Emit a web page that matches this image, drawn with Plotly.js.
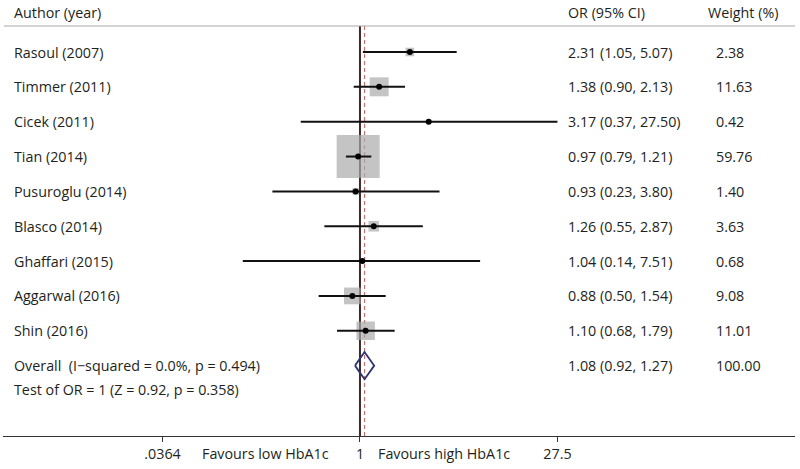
<!DOCTYPE html>
<html><head><meta charset="utf-8">
<script src="https://cdn.plot.ly/plotly-3.0.1.min.js"></script>
<style>html,body{margin:0;padding:0;background:#fff}#chart{width:800px;height:469px}</style>
</head><body><div id="chart"></div>
<script>
const studies = ['Rasoul (2007)','Timmer (2011)','Cicek (2011)','Tian (2014)','Pusuroglu (2014)','Blasco (2014)','Ghaffari (2015)','Aggarwal (2016)','Shin (2016)'];
const orValues = [2.31,1.38,3.17,0.97,0.93,1.26,1.04,0.88,1.10];
const ciLow = [1.05,0.90,0.37,0.79,0.23,0.55,0.14,0.50,0.68];
const ciHigh = [5.07,2.13,27.50,1.21,3.80,2.87,7.51,1.54,1.79];
const weights = [2.38,11.63,0.42,59.76,1.40,3.63,0.68,9.08,11.01];
const overallLabel = 'Overall  (I\u2212squared = 0.0%, p = 0.494)';
const overallOR = [1.08];
const overallLow = [0.92];
const overallHigh = [1.27];
const overallWeight = [100.00];
const testLabel = 'Test of OR = 1 (Z = 0.92, p = 0.358)';
const tickVals = [0.0364, 1, 27.5];
const tickText = ['.0364','1','27.5'];
const favourLabels = ['Favours low HbA1c','Favours high HbA1c'];
const headers = ['Author (year)','OR (95% CI)','Weight (%)'];

const FONT = '"Open Sans", "Noto Sans", sans-serif';
const FS = 14.3;
const TXT = '#231f20';
const rowY = studies.map((s,i)=>i);
const overallY = studies.length;
const testY = overallY + 0.69;
const maxW = Math.max(...weights);

const ciX = [], ciY = [];
studies.forEach((s,i)=>{ ciX.push(ciLow[i], ciHigh[i], null); ciY.push(i, i, null); });

const dh = 0.39;
const traces = [
  {type:'scatter', mode:'markers', x:orValues, y:rowY, hoverinfo:'skip',
   marker:{symbol:'square', size:weights.map(w=>43*Math.sqrt(w/maxW)), color:'#ababab', line:{width:0}}},
  {type:'scatter', mode:'lines', x:ciX, y:ciY, line:{color:'#111', width:2}, hoverinfo:'skip'},
  {type:'scatter', mode:'markers', x:orValues, y:rowY, marker:{symbol:'circle', size:6, color:'#000'}, hoverinfo:'skip'},
  {type:'scatter', mode:'lines', hoverinfo:'skip',
   x:[overallLow[0], overallOR[0], overallHigh[0], overallOR[0], overallLow[0]],
   y:[overallY, overallY-dh, overallY, overallY+dh, overallY],
   line:{color:'#2f3472', width:1.8}, fill:'none'}
];

const px = p => (p-3)/792;
const ann = [];
function txt(x, y, text, yref){ ann.push({xref:'paper', yref:yref||'y', x:x, y:y, text:text, showarrow:false, xanchor:'left', yanchor:'middle', font:{family:FONT, size:FS, color:TXT}}); }
txt(px(12), -1.12, headers[0]);
txt(px(566), -1.12, headers[1]);
txt(px(706), -1.12, headers[2]);
studies.forEach((s,i)=>{
  txt(px(12), i, s);
  txt(px(566), i, orValues[i].toFixed(2)+' ('+ciLow[i].toFixed(2)+', '+ciHigh[i].toFixed(2)+')');
  txt(px(714), i, weights[i].toFixed(2));
});
txt(px(12), overallY, overallLabel);
txt(px(566), overallY, overallOR[0].toFixed(2)+' ('+overallLow[0].toFixed(2)+', '+overallHigh[0].toFixed(2)+')');
txt(px(714), overallY, overallWeight[0].toFixed(2));
txt(px(12), testY, testLabel);
[265, 444].forEach((c,k)=>{
  ann.push({xref:'paper', yref:'paper', x:px(c), y:-0.041, text:favourLabels[k], showarrow:false, xanchor:'center', yanchor:'middle', font:{family:FONT, size:FS, color:TXT}});
});

const headerY = -0.746;
const layout = {
  width:800, height:469, margin:{l:3, r:5, t:0, b:33},
  paper_bgcolor:'#fff', plot_bgcolor:'#fff', showlegend:false,
  xaxis:{type:'log', range:[-2.602, 3.171], showgrid:false, zeroline:false, showline:true, linecolor:'#333', linewidth:1.2,
         ticks:'outside', ticklen:5, tickwidth:1, tickcolor:'#333', tickvals:tickVals, ticktext:tickText,
         tickfont:{family:FONT, size:FS, color:TXT}, fixedrange:true},
  yaxis:{range:[11.019, -1.492], visible:false, showgrid:false, zeroline:false, fixedrange:true},
  shapes:[
    {type:'line', xref:'paper', yref:'y', x0:0.001, x1:1, y0:headerY, y1:headerY, line:{color:'#a8a8a8', width:1}},
    {type:'line', xref:'x', yref:'y', x0:1, x1:1, y0:headerY, y1:11.019, layer:'below', line:{color:'#3b2a2a', width:2}},
    {type:'line', xref:'x', yref:'y', x0:overallOR[0], x1:overallOR[0], y0:headerY, y1:11.019, layer:'below', line:{color:'#c97070', width:1.2, dash:'4px,3px'}}
  ],
  annotations:ann
};
Plotly.newPlot('chart', traces, layout, {displayModeBar:false, staticPlot:true});
</script></body></html>
